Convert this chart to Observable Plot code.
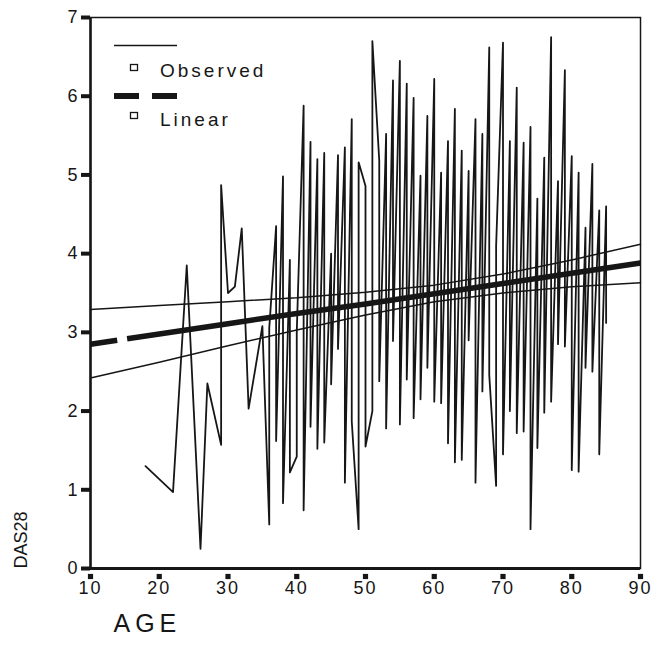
<!DOCTYPE html>
<html><head><meta charset="utf-8">
<script src="https://cdn.jsdelivr.net/npm/d3@7"></script>
<script src="https://cdn.jsdelivr.net/npm/@observablehq/plot@0.6"></script>
<style>
body{margin:0;background:#fff;}
</style></head><body><div id="chart"></div>
<script>
// Observed DAS28 values, in path order (sorted by age)
const obsAge = [18,22,24,26,27,29,29,30,31,32,33,35,36,36,37,37,38,38,39,39,40,40,
  41,41,42,42,43,43,44,44,45,45,46,46,47,47,48,48,49,49,50,50,51,51,52,52,53,53,
  54,54,55,55,56,56,57,57,58,58,59,59,60,60,61,61,62,62,63,63,64,64,65,65,66,66,
  67,67,68,68,69,69,70,70,71,71,72,72,73,73,74,74,75,75,76,76,77,77,78,78,79,79,
  80,80,81,81,82,82,83,83,84,84,85,85];
const obsDas = [1.30,0.97,3.85,0.25,2.35,1.57,4.87,3.50,3.58,4.32,2.03,3.08,0.56,3.05,4.35,1.62,4.98,0.83,3.92,1.22,1.42,3.00,
  5.88,0.74,5.42,1.80,5.20,1.52,5.28,1.60,4.00,2.34,5.25,2.79,5.35,1.09,5.71,1.87,0.50,5.16,4.86,1.55,2.00,6.70,5.18,2.38,5.52,1.78,
  6.20,2.89,6.45,1.83,6.16,2.40,5.98,1.91,4.99,2.15,5.75,2.55,6.22,2.12,5.03,2.10,5.43,1.59,5.84,1.35,5.31,1.38,5.05,2.90,5.71,1.09,
  5.52,2.25,6.62,2.46,1.05,4.10,6.68,1.45,5.43,2.00,6.11,1.72,5.41,1.74,5.61,0.50,4.70,1.53,5.22,1.98,6.75,2.12,4.92,2.85,6.33,2.82,
  5.24,1.25,5.03,1.23,4.33,2.55,5.14,2.50,4.55,1.45,4.60,3.12];

// Linear fit and its confidence band, read at these ages
const fitAge    = [10, 20, 30, 40, 50, 60, 70, 80, 90];
const fitLinear = [2.85, 2.98, 3.11, 3.24, 3.36, 3.49, 3.62, 3.75, 3.88];
const ciUpper   = [3.29, 3.34, 3.39, 3.44, 3.51, 3.60, 3.74, 3.92, 4.12];
const ciLower   = [2.42, 2.62, 2.83, 3.03, 3.22, 3.39, 3.50, 3.58, 3.63];

const xTicks = [10, 20, 30, 40, 50, 60, 70, 80, 90];
const yTicks = [0, 1, 2, 3, 4, 5, 6, 7];

const observed = obsAge.map((a, i) => ({age: a, das: obsDas[i]}));
const fit = fitAge.map((a, i) => ({age: a, fit: fitLinear[i], up: ciUpper[i], lo: ciLower[i]}));

const ink = "#161616";
const font = "'Liberation Sans', Arial, Helvetica, sans-serif";
const sq = {draw(ctx) { ctx.rect(-2.6, -2.6, 5.2, 5.2); }};

const chart = Plot.plot({
  width: 654, height: 663,
  marginLeft: 90, marginRight: 14, marginTop: 17, marginBottom: 95,
  style: {fontFamily: font, background: "#fff", color: ink, overflow: "visible"},
  x: {domain: [10, 90]},
  y: {domain: [0, 7]},
  marks: [
    Plot.line(fit, {x: "age", y: "up", stroke: ink, strokeWidth: 1.5}),
    Plot.line(fit, {x: "age", y: "lo", stroke: ink, strokeWidth: 1.5}),
    Plot.line(observed, {x: "age", y: "das", stroke: ink, strokeWidth: 1.8}),
    Plot.line(fit, {x: "age", y: "fit", stroke: ink, strokeWidth: 5.5, strokeDasharray: "27,10,2000", strokeLinecap: "butt"}),
    Plot.frame({stroke: ink, strokeWidth: 1.5}),
    Plot.ruleX([10], {stroke: ink, strokeWidth: 2.5}),
    Plot.ruleY([0], {stroke: ink, strokeWidth: 3}),
    Plot.axisY(yTicks, {tickSize: 9, strokeWidth: 4, stroke: ink, tickPadding: 4, fontSize: 18, tickFormat: "d", label: null}),
    Plot.axisX(xTicks, {tickSize: 0, tickPadding: 13, fontSize: 18, tickFormat: "d", label: null}),
    Plot.dot(xTicks, {x: d => d, frameAnchor: "bottom", dy: 8, symbol: sq, fill: ink, stroke: null}),
    Plot.text(["DAS28"], {text: d => d, frameAnchor: "bottom-left", dx: -64, rotate: -90, textAnchor: "start", fontSize: 18}),
    Plot.text(["AGE"], {text: d => d, frameAnchor: "bottom-left", dx: 23, dy: 63, textAnchor: "start", fontSize: 25})
  ]
});

const svg = d3.select(chart);
svg.selectAll('[aria-label="x-axis tick label"] text').style("letter-spacing", "2px");
svg.selectAll("text").filter(function(){ return this.textContent === "AGE"; }).style("letter-spacing", "5px");

// Legend
const lg = svg.append("g").attr("fill", "none").attr("stroke", ink);
lg.append("line").attr("x1", 114).attr("x2", 177).attr("y1", 45.5).attr("y2", 45.5).attr("stroke-width", 1.5);
lg.append("rect").attr("x", 130.5).attr("y", 64.5).attr("width", 7).attr("height", 6).attr("stroke-width", 1.3);
lg.append("line").attr("x1", 114).attr("x2", 177).attr("y1", 96).attr("y2", 96).attr("stroke-width", 6).attr("stroke-dasharray", "25,13,25");
lg.append("rect").attr("x", 130.5).attr("y", 112.5).attr("width", 7).attr("height", 6).attr("stroke-width", 1.3);
const lt = svg.append("g").attr("fill", ink).attr("font-family", font).attr("font-size", 19)
  .attr("text-anchor", "start").style("text-anchor", "start").style("letter-spacing", "3px");
lt.append("text").attr("x", 160).attr("y", 77).text("Observed");
lt.append("text").attr("x", 160).attr("y", 126).text("Linear");

document.getElementById("chart").appendChild(chart);
</script></body></html>
